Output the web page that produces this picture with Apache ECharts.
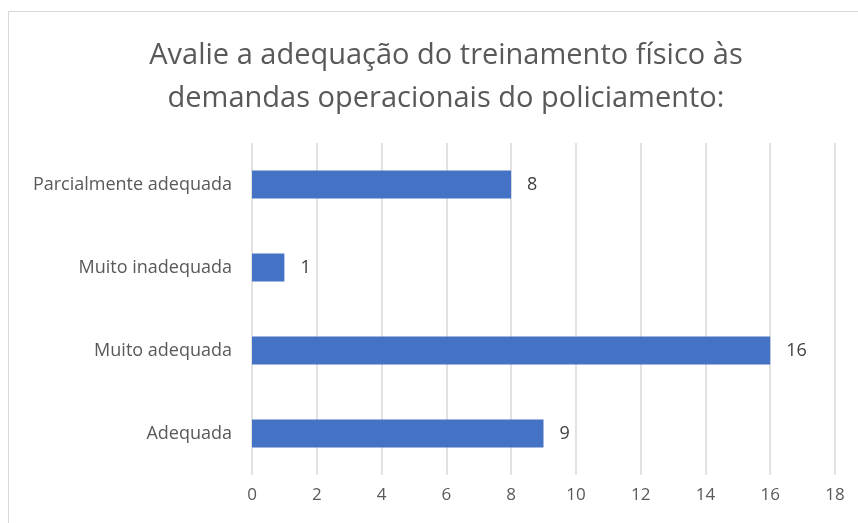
<!DOCTYPE html>
<html>
<head>
<meta charset="utf-8">
<script src="https://cdn.jsdelivr.net/npm/echarts@6/dist/echarts.min.js"></script>
<style>
html,body{margin:0;padding:0;background:#fff;}
#main{position:absolute;left:8px;top:11px;width:850px;height:512px;border-top:1px solid #d9d9d9;border-left:1px solid #d9d9d9;box-sizing:border-box;}
</style>
</head>
<body>
<div id="main"></div>
<script>
const categories = ['Adequada', 'Muito adequada', 'Muito inadequada', 'Parcialmente adequada'];
const values = [9, 16, 1, 8];
const titleText = 'Avalie a adequação do treinamento físico às\ndemandas operacionais do policiamento:';

const chart = echarts.init(document.getElementById('main'));
const option = {
  animation: false,
  title: {
    text: titleText,
    left: 432,
    textAlign: 'center',
    top: 17,
    textStyle: {
      fontFamily: 'Open Sans',
      fontWeight: 'normal',
      fontSize: 29,
      lineHeight: 43,
      color: '#595959'
    }
  },
  grid: {
    left: 243,
    right: 23,
    top: 131,
    bottom: 48
  },
  xAxis: {
    type: 'value',
    min: 0,
    max: 18,
    interval: 2,
    axisLine: { show: false },
    axisTick: { show: false },
    axisLabel: {
      fontFamily: 'Open Sans',
      fontSize: 17,
      color: '#595959',
      margin: 12
    },
    splitLine: { lineStyle: { color: '#d9d9d9', width: 1.5 } }
  },
  yAxis: {
    type: 'category',
    data: categories,
    axisLine: { show: false },
    axisTick: { show: false },
    axisLabel: {
      fontFamily: 'Open Sans',
      fontSize: 18,
      color: '#595959',
      margin: 20
    }
  },
  series: [{
    type: 'bar',
    data: values,
    barWidth: 28,
    itemStyle: { color: '#4472C4' },
    label: {
      show: true,
      position: 'right',
      distance: 16,
      fontFamily: 'Open Sans',
      fontSize: 18,
      color: '#404040'
    }
  }]
};
chart.setOption(option);
</script>
</body>
</html>
